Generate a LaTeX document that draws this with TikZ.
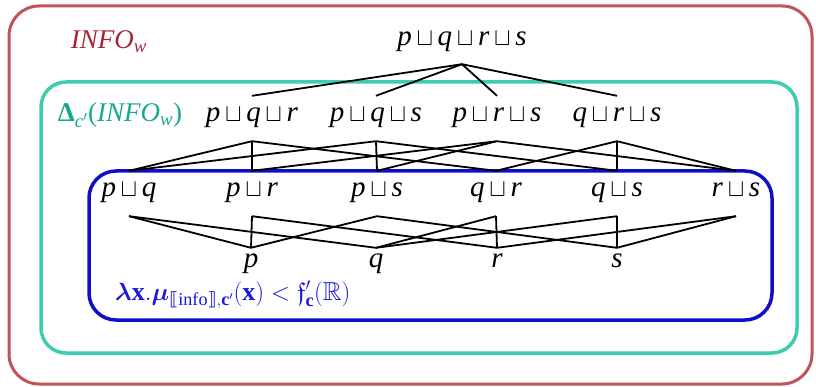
\documentclass[tikz,border=0pt]{standalone}
\usepackage{amsmath,amssymb,bm}
\usepackage{fontspec}
\setmainfont{Liberation Serif}
\newfontfamily\dvsans{DejaVu Sans}
\definecolor{boxred}{RGB}{190,85,90}
\definecolor{txtred}{RGB}{170,35,50}
\definecolor{boxteal}{RGB}{60,205,175}
\definecolor{txtteal}{RGB}{20,170,140}
\definecolor{boxblue}{RGB}{15,15,200}
\definecolor{txtblue}{RGB}{25,25,215}
\newcommand{\jn}{\hspace{0.16em}{\fontsize{25}{25}\selectfont$\sqcup$}\hspace{0.16em}}
\newcommand{\lbr}{\text{\dvsans ⟦}}
\newcommand{\rbr}{\text{\dvsans ⟧}}
\begin{document}
\begin{tikzpicture}[x=1pt,y=-1pt,
  lbl/.style={anchor=base, inner xsep=0pt, text height=14pt, text depth=7pt,
    font=\fontsize{29}{34}\selectfont},
  rowa/.style={lbl, inner ysep=11pt},
  rowb/.style={lbl, inner ysep=12pt},
  rowc/.style={lbl, inner ysep=12pt},
  rowd/.style={lbl, inner ysep=6pt},
  edge/.style={draw=black, line width=1.8pt}
]
\useasboundingbox (0,0) rectangle (816,387);
% frames
\draw[boxred, line width=3pt, rounded corners=30pt] (9,6) rectangle (812,384);
\draw[boxteal, line width=3.5pt, rounded corners=25pt] (41,82) rectangle (797,353);
\draw[boxblue, line width=3.5pt, rounded corners=27pt] (89,171) rectangle (772,320);
% frame labels
\node[anchor=base, inner sep=0pt, font=\fontsize{27}{30}\selectfont, text=txtred] (info) at (109,49)
  {\textit{INFO}\textsubscript{\textit{w}}};
\node[anchor=base, inner sep=0pt, font=\fontsize{27}{30}\selectfont, text=txtteal] (delta) at (120,122)
  {\textbf{Δ}\textsubscript{\textit{c}$'$}(\textit{INFO}\textsubscript{\textit{w}})};
\node[anchor=base west, inner sep=0pt, font=\fontsize{26}{30}\selectfont, text=txtblue] (lam) at (115,300)
  {$\bm{\lambda}\mathbf{x}.\bm{\mu}_{\lbr\mathrm{info}\rbr,\mathbf{c}'}(\mathbf{x}) < \mathfrak{f}'_{\mathbf{c}}(\mathbb{R})$};
% row 1
\node[rowa] (pqrs) at (462,46) {\textit{p}\jn\textit{q}\jn\textit{r}\jn\textit{s}};
% row 2
\node[rowb] (pqr) at (252,122) {\textit{p}\jn\textit{q}\jn\textit{r}};
\node[rowb] (pqs) at (376,122) {\textit{p}\jn\textit{q}\jn\textit{s}};
\node[rowb] (prs) at (497,122) {\textit{p}\jn\textit{r}\jn\textit{s}};
\node[rowb] (qrs) at (617,122) {\textit{q}\jn\textit{r}\jn\textit{s}};
% row 3
\node[rowc] (pq) at (129,197) {\textit{p}\jn\textit{q}};
\node[rowc] (pr) at (252,197) {\textit{p}\jn\textit{r}};
\node[rowc] (ps) at (377,197) {\textit{p}\jn\textit{s}};
\node[rowc] (qr) at (496,197) {\textit{q}\jn\textit{r}};
\node[rowc] (qs) at (617,197) {\textit{q}\jn\textit{s}};
\node[rowc] (rs) at (736,197) {\textit{r}\jn\textit{s}};
% row 4
\node[rowd] (p) at (251,268) {\textit{p}};
\node[rowd] (q) at (376,268) {\textit{q}};
\node[rowd] (r) at (497,268) {\textit{r}};
\node[rowd] (s) at (617,268) {\textit{s}};
% edges row1-row2
\foreach \b in {pqr,pqs,prs,qrs} \draw[edge] (pqrs.south) -- (\b.north);
% edges row2-row3
\foreach \a/\b in {pqr/pq,pqr/pr,pqr/qr,pqs/pq,pqs/ps,pqs/qs,prs/pr,prs/ps,prs/rs,qrs/qr,qrs/qs,qrs/rs}
  \draw[edge] (\a.south) -- (\b.north);
% edges row3-row4
\foreach \a/\b in {pq/p,pq/q,pr/p,pr/r,ps/p,ps/s,qr/q,qr/r,qs/q,qs/s,rs/r,rs/s}
  \draw[edge] (\a.south) -- (\b.north);
\end{tikzpicture}
\end{document}
